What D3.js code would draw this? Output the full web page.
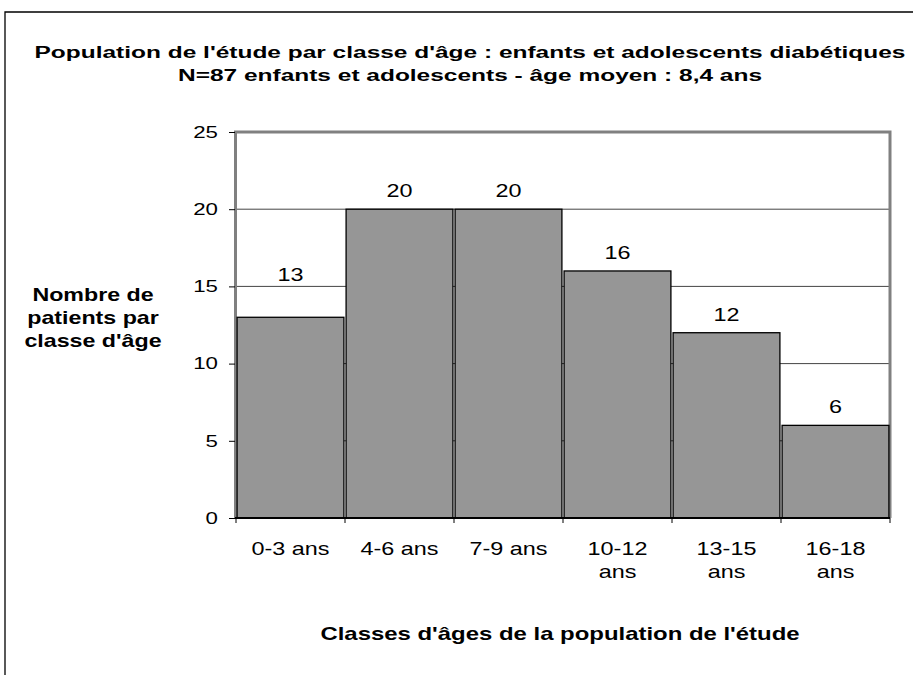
<!DOCTYPE html>
<html><head><meta charset="utf-8">
<script src="https://cdn.jsdelivr.net/npm/d3@7"></script>
<style>body{margin:0;background:#fff}svg{display:block;font-family:"Liberation Sans",Arial,sans-serif}</style>
</head><body><svg id="c" width="913" height="675"></svg>
<script>
const categories = [["0-3 ans"],["4-6 ans"],["7-9 ans"],["10-12","ans"],["13-15","ans"],["16-18","ans"]];
const values = [13,20,20,16,12,6];
const yTicks = [0,5,10,15,20,25];
const titleLines = ["Population de l'étude par classe d'âge : enfants et adolescents diabétiques","N=87 enfants et adolescents - âge moyen : 8,4 ans"];
const yTitleLines = ["Nombre de","patients par","classe d'âge"];
const xTitle = "Classes d'âges de la population de l'étude";

const svg = d3.select("#c");
const L=236, R=890, T=132, B=518;
const FONT = "Liberation Sans, Arial, sans-serif";

function stretchText(g, cx, cy, str, size, sx, bold){
  return g.append("text").attr("transform",`translate(${cx},${cy}) scale(${sx},1)`)
    .attr("text-anchor","middle").attr("font-size",size).attr("font-weight",bold?"bold":"normal")
    .attr("fill","#000").text(str);
}

// outer frame
svg.append("path").attr("d","M5,675V12H913").attr("fill","none").attr("stroke","#000").attr("stroke-width",1.3);

const x = d3.scaleBand().domain(d3.range(categories.length)).range([L,R]).paddingInner(0.02).paddingOuter(0.01);
const y = d3.scaleLinear().domain([0,25]).range([B,T]);

// gridlines
svg.append("g").selectAll("line").data(yTicks.filter(d=>d>0&&d<25)).join("line")
  .attr("x1",L).attr("x2",R).attr("y1",d=>y(d)).attr("y2",d=>y(d)).attr("stroke","#444").attr("stroke-width",1);

// plot border
svg.append("path").attr("d",`M${L-0.5},${B}V${T}H${R}V${B}`).attr("fill","none").attr("stroke","#808080").attr("stroke-width",3);

// bars
svg.append("g").selectAll("rect").data(values).join("rect")
  .attr("x",(d,i)=>x(i)).attr("width",x.bandwidth()).attr("y",d=>y(d)).attr("height",d=>B-y(d))
  .attr("fill","#969696").attr("stroke","#000").attr("stroke-width",1.3);

// value labels
const vl = svg.append("g");
values.forEach((v,i)=>{
  const off = (i===0) ? 36 : 12;
  stretchText(vl, x(i)+x.bandwidth()/2, y(v)-off, v, 18, 1.3, false);
});

// y axis
const ysx = 1.35;
const ya = svg.append("g").attr("transform",`translate(${L-1},0)`).call(d3.axisLeft(y).tickValues(yTicks).tickSize(6).tickPadding(0));
ya.select(".domain").remove();
ya.selectAll(".tick line").attr("stroke","#000");
ya.selectAll("text").attr("font-size",16.5).attr("font-family",FONT).attr("fill","#000")
  .attr("x",-17/ysx).attr("transform",`scale(${ysx},1)`);

// x axis
const xb = d3.scaleLinear().domain([0,categories.length]).range([L,R]);
svg.append("line").attr("x1",L-1).attr("x2",R).attr("y1",B).attr("y2",B).attr("stroke","#000").attr("stroke-width",2);
svg.append("g").selectAll("line").data(d3.range(categories.length+1)).join("line")
  .attr("x1",d=>xb(d)).attr("x2",d=>xb(d)).attr("y1",B).attr("y2",B+5).attr("stroke","#000");
const xg = svg.append("g");
categories.forEach((c,i)=>{
  c.forEach((s,j)=> stretchText(xg, x(i)+x.bandwidth()/2, 555+j*23, s, 18, 1.3, false));
});

// titles
const tg = svg.append("g");
titleLines.forEach((s,i)=> stretchText(tg, 470, 58+i*23, s, 17, 1.44, true));
const yg = svg.append("g");
yTitleLines.forEach((s,i)=> stretchText(yg, 93, 301+i*23, s, 18, 1.29, true));
stretchText(svg, 560, 640, xTitle, 18, 1.33, true);
</script></body></html>
